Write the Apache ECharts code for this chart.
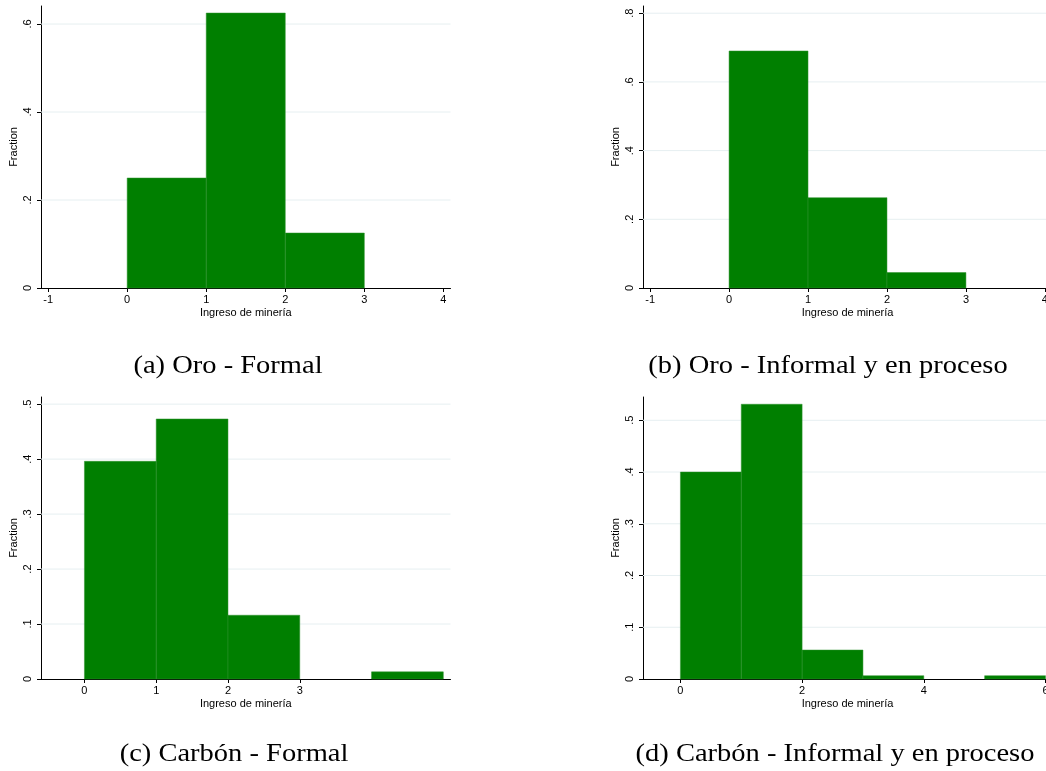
<!DOCTYPE html>
<html>
<head>
<meta charset="utf-8">
<script src="https://cdn.jsdelivr.net/npm/echarts@6/dist/echarts.min.js"></script>
<style>
html,body{margin:0;padding:0;background:#fff;overflow:hidden;width:1046px;height:771px;}
#chart{width:1070px;height:771px;}
</style>
</head>
<body>
<div id="chart"></div>
<script>
// ---- data ----
const captions = ['(a) Oro - Formal', '(b) Oro - Informal y en proceso', '(c) Carbón - Formal', '(d) Carbón - Informal y en proceso'];
const xTitle = 'Ingreso de minería';
const yTitle = 'Fraction';

const oroFormalBinStart = [0, 1, 2];
const oroFormalBinEnd = [1, 2, 3];
const oroFormalFrac = [0.25, 0.625, 0.125];

const oroInformalBinStart = [0, 1, 2];
const oroInformalBinEnd = [1, 2, 3];
const oroInformalFrac = [0.69, 0.263, 0.045];

const carbonFormalBinStart = [0, 1, 2, 4];
const carbonFormalBinEnd = [1, 2, 3, 5];
const carbonFormalFrac = [0.396, 0.473, 0.116, 0.013];

const carbonInformalBinStart = [0, 1, 2, 3, 5];
const carbonInformalBinEnd = [1, 2, 3, 4, 6];
const carbonInformalFrac = [0.40, 0.531, 0.056, 0.0064, 0.0064];

const xTicksA = [-1, 0, 1, 2, 3, 4];
const xTicksB = [-1, 0, 1, 2, 3, 4];
const xTicksC = [0, 1, 2, 3];
const xTicksD = [0, 2, 4, 6];

const yTicksA = [0, 0.2, 0.4, 0.6];
const yTicksB = [0, 0.2, 0.4, 0.6, 0.8];
const yTicksC = [0, 0.1, 0.2, 0.3, 0.4, 0.5];
const yTicksD = [0, 0.1, 0.2, 0.3, 0.4, 0.5];

// ---- layout ----
const panels = [
  {start: oroFormalBinStart, end: oroFormalBinEnd, frac: oroFormalFrac, xt: xTicksA, yt: yTicksA,
   xmin: -1.09, xmax: 4.09, ymax: 0.641, grid: {left: 41, top: 6, width: 409.5, height: 282}},
  {start: oroInformalBinStart, end: oroInformalBinEnd, frac: oroInformalFrac, xt: xTicksB, yt: yTicksB,
   xmin: -1.09, xmax: 4.09, ymax: 0.821, grid: {left: 643, top: 6, width: 409, height: 282}},
  {start: carbonFormalBinStart, end: carbonFormalBinEnd, frac: carbonFormalFrac, xt: xTicksC, yt: yTicksC,
   xmin: -0.605, xmax: 5.10, ymax: 0.513, grid: {left: 41, top: 397, width: 409.5, height: 282}},
  {start: carbonInformalBinStart, end: carbonInformalBinEnd, frac: carbonInformalFrac, xt: xTicksD, yt: yTicksD,
   xmin: -0.615, xmax: 6.107, ymax: 0.545, grid: {left: 643, top: 397, width: 409, height: 282}}
];
const captionPos = [[228, 366], [828, 366], [234, 754], [835, 754]];

const fmtY = v => {
  if (v === 0) return '0';
  let s = String(+v.toFixed(2));
  return s.replace(/^0\./, '.');
};

const grids = [], xAxes = [], yAxes = [], series = [];
const axisFont = {fontFamily: 'Liberation Sans', fontSize: 11, color: '#000'};

panels.forEach((p, i) => {
  grids.push(Object.assign({containLabel: false}, p.grid));
  xAxes.push({
    type: 'value', gridIndex: i, min: p.xmin, max: p.xmax,
    name: xTitle, nameLocation: 'middle', nameGap: 19,
    nameTextStyle: axisFont,
    axisLine: {show: true, onZero: false, lineStyle: {color: '#000', width: 1}},
    axisTick: {show: true, length: 4, customValues: p.xt, lineStyle: {color: '#000'}},
    axisLabel: Object.assign({customValues: p.xt, margin: 6, formatter: v => String(v)}, axisFont),
    splitLine: {show: false}
  });
  yAxes.push({
    type: 'value', gridIndex: i, min: 0, max: p.ymax,
    name: yTitle, nameLocation: 'middle', nameGap: 22,
    nameTextStyle: axisFont,
    axisLine: {show: true, onZero: false, lineStyle: {color: '#000', width: 1}},
    axisTick: {show: true, length: 4, customValues: p.yt, lineStyle: {color: '#000'}},
    axisLabel: Object.assign({customValues: p.yt, margin: 8, rotate: 90, formatter: fmtY}, axisFont),
    splitLine: {show: false}
  });
  // gridlines
  series.push({
    type: 'custom', xAxisIndex: i, yAxisIndex: i, silent: true, z: 1,
    data: p.yt.filter(v => v > 0).map(v => [v]),
    renderItem: (params, api) => {
      const v = api.value(0);
      const a = api.coord([p.xmin, v]);
      const b = api.coord([p.xmax, v]);
      return {type: 'line', shape: {x1: a[0], y1: a[1], x2: b[0], y2: b[1]},
        style: {stroke: '#e6eff1', lineWidth: 1}};
    }
  });
  // histogram bars
  series.push({
    type: 'custom', xAxisIndex: i, yAxisIndex: i, z: 2,
    encode: {x: [0, 1], y: 2},
    data: p.start.map((s, k) => [s, p.end[k], p.frac[k]]),
    renderItem: (params, api) => {
      const p0 = api.coord([api.value(0), api.value(2)]);
      const p1 = api.coord([api.value(1), 0]);
      return {type: 'rect', shape: {x: p0[0], y: p0[1], width: p1[0] - p0[0], height: p1[1] - p0[1]},
        style: {fill: '#007f00', stroke: '#2f922f', lineWidth: 0.5}};
    }
  });
});

const graphics = captions.map((t, i) => ({
  type: 'text', x: captionPos[i][0], y: captionPos[i][1], scaleX: 1.14,
  style: {text: t, fontFamily: 'Liberation Serif', fontSize: 25, fill: '#000',
    textAlign: 'center', textVerticalAlign: 'middle'}
}));

const chart = echarts.init(document.getElementById('chart'), null, {renderer: 'canvas'});
chart.setOption({
  backgroundColor: '#fff',
  animation: false,
  grid: grids, xAxis: xAxes, yAxis: yAxes, series: series,
  graphic: graphics
});
</script>
</body>
</html>
